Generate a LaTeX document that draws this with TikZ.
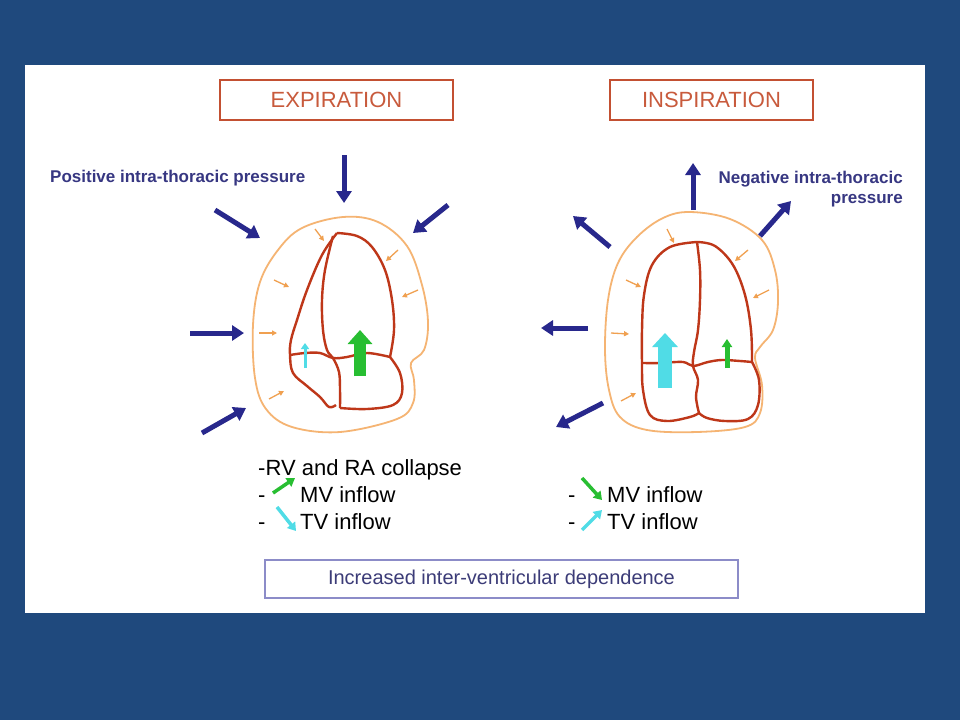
\documentclass[tikz,border=0pt]{standalone}
\usepackage{fontspec}
\setmainfont{Liberation Sans}
\usetikzlibrary{arrows.meta,positioning}
\definecolor{slideblue}{RGB}{31,73,125}
\definecolor{boxred}{RGB}{195,80,50}
\definecolor{titlered}{RGB}{200,90,60}
\definecolor{wallred}{RGB}{190,55,25}
\definecolor{periorange}{RGB}{245,180,115}
\definecolor{nudgeorange}{RGB}{240,160,80}
\definecolor{navyarrow}{RGB}{40,40,140}
\definecolor{navytext}{RGB}{55,55,130}
\definecolor{flowgreen}{RGB}{40,190,50}
\definecolor{flowcyan}{RGB}{80,220,230}
\definecolor{depline}{RGB}{140,140,200}
\definecolor{deptext}{RGB}{60,60,120}

\begin{document}
\begin{tikzpicture}[x=1pt,y=-1pt,
  press/.style={draw=navyarrow,line width=5pt,-{Triangle[length=12pt,width=15pt]}},
  peri/.style={draw=periorange,line width=1.8pt},
  wall/.style={draw=wallred,line width=2.4pt,line join=round},
  nudge/.style={draw=nudgeorange,line width=1.3pt,-{Triangle[length=5pt,width=5pt]}},
  titlebox/.style={draw=boxred,line width=1.8pt,text=titlered,font=\fontsize{22}{26}\selectfont,inner sep=0pt},
  pressurelbl/.style={text=navytext,font=\bfseries\fontsize{17}{19.5}\selectfont,inner sep=0pt},
  listtxt/.style={font=\fontsize{22}{26}\selectfont,inner sep=0pt,anchor=base west},
  listarrow/.style={line width=3.5pt,-{Triangle[length=8pt,width=10pt]}}]
            \fill[slideblue] (0,0) rectangle (960,720);
            \fill[white] (25,65) rectangle (925,613);

            \node[titlebox,minimum width=233pt,minimum height=40pt] (exp) at (336.5,100){EXPIRATION};
            \node[titlebox,minimum width=203pt,minimum height=40pt] (insp) at (711.5,100){INSPIRATION};
            \node[pressurelbl,anchor=west] (poslbl) at (50,178){Positive intra-thoracic pressure};
            \node[pressurelbl,anchor=north east,align=right] (neglbl) at (903,171){Negative intra-thoracic\\pressure};

            \draw[press] (344,155) -- (344,203);
            \draw[press] (215,210) -- (260,238);
            \draw[press] (448,205) -- (413,233);
            \draw[press] (190,333) -- (244,333);
            \draw[press] (202,433) -- (246,408);

            \draw[press] (693,210) -- (693,163);
            \draw[press] (610,247) -- (573,216);
            \draw[press] (760,236) -- (791,201);
            \draw[press] (588,328) -- (541,328);
            \draw[press] (603,403) -- (556,427);

            \draw[peri] plot[smooth cycle,tension=0.6] coordinates {(343,217) (378,222) (407,246) (422,285) (428,322) (424,350) (411,363) (414,380) (413,403) (397,419) (340,432) (292,427) (266,409) (255,378) (253,325) (260,282) (278,250) (302,228)};
            \draw[peri] plot[smooth cycle,tension=0.6] coordinates {(690,212) (730,219) (762,240) (775,270) (778,302) (773,330) (760,347) (755,358) (762,385) (760,413) (745,427) (697,432) (647,430) (620,417) (609,390) (605,350) (608,300) (618,263) (637,237) (663,218)};

            \draw[nudge] (315,229) -- (324,241);
            \draw[nudge] (398,250) -- (386,261);
            \draw[nudge] (274,280) -- (289,287);
            \draw[nudge] (418,290) -- (402,297);
            \draw[nudge] (259,333) -- (277,333);
            \draw[nudge] (269,399) -- (284,391);
            \draw[nudge] (667,229) -- (674,243);
            \draw[nudge] (748,250) -- (735,261);
            \draw[nudge] (626,280) -- (641,287);
            \draw[nudge] (769,290) -- (753,298);
            \draw[nudge] (611,333) -- (629,334);
            \draw[nudge] (621,401) -- (636,393);

            \draw[wall] plot[smooth,tension=0.6] coordinates {(337,233) (322,255) (307,290) (297,320) (291,340) (290,355) (293,373) (307,386) (320,397) (329,407) (336,405)};
            \draw[wall] plot[smooth,tension=0.6] coordinates {(333,236) (325,270) (322,300) (323,330) (327,350) (333,358) (339,372) (340,390) (340,408)};
            \draw[wall] plot[smooth,tension=0.6] coordinates {(337,233) (357,236) (372,247) (385,270) (392,300) (394,330) (390,357)};
            \draw[wall] plot[smooth,tension=0.6] coordinates {(390,357) (400,373) (402,393) (393,405) (367,409) (340,408)};
            \draw[wall] plot[smooth,tension=0.6] coordinates {(290,355) (305,353) (320,353) (333,358) (347,357) (367,353) (390,357)};

            \draw[wall] plot[smooth,tension=0.6] coordinates {(697,242) (670,247) (652,265) (644,295) (642,330) (642,363) (643,390) (650,415) (667,421) (690,417) (699,413)};
            \draw[wall] plot[smooth,tension=0.6] coordinates {(697,242) (700,270) (700,300) (698,330) (694,352) (693,366) (698,380) (696,397) (699,413)};
            \draw[wall] plot[smooth,tension=0.6] coordinates {(697,242) (715,246) (733,265) (745,295) (751,330) (752,362)};
            \draw[wall] plot[smooth,tension=0.6] coordinates {(752,362) (759,380) (758,405) (748,419) (725,421) (707,418) (699,413)};
            \draw[wall] plot[smooth,tension=0.6] coordinates {(642,363) (660,363) (683,362) (693,366) (708,362) (722,360) (740,361) (752,362)};

            \draw[flowcyan,line width=3pt,-{Triangle[length=6pt,width=8pt]}] (305,368) -- (305,343);
            \draw[flowgreen,line width=12pt,-{Triangle[length=14pt,width=24pt]}] (360,376) -- (360,330);
            \draw[flowcyan,line width=14pt,-{Triangle[length=14pt,width=25pt]}] (665,388) -- (665,333);
            \draw[flowgreen,line width=5pt,-{Triangle[length=8pt,width=10pt]}] (727,368) -- (727,339);

            \node[listtxt] (collapse) at (258,475){-RV and RA collapse};
            \node[listtxt] (dashmvl) at (258,502){-};
            \node[listtxt] (mvl) at (300,502){MV inflow};
            \node[listtxt] (dashtvl) at (258,529){-};
            \node[listtxt] (tvl) at (300,529){TV inflow};
            \draw[listarrow,flowgreen] (273,493) -- (295,478);
            \draw[listarrow,flowcyan] (277,507) -- (296,531);

            \node[listtxt] (dashmvr) at (568,502){-};
            \node[listtxt] (mvr) at (607,502){MV inflow};
            \node[listtxt] (dashtvr) at (568,529){-};
            \node[listtxt] (tvr) at (607,529){TV inflow};
            \draw[listarrow,flowgreen] (582,478) -- (602,500);
            \draw[listarrow,flowcyan] (582,530) -- (602,510);

            \node[draw=depline,line width=1.2pt,text=deptext,font=\fontsize{20}{24}\selectfont,minimum width=473pt,minimum height=38pt,inner sep=0pt] (dep) at (501.5,579){Increased inter-ventricular dependence};
\end{tikzpicture}
\end{document}
